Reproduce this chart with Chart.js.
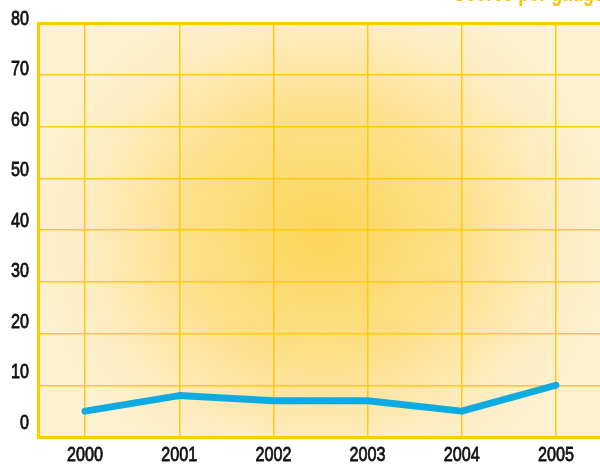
<!DOCTYPE html>
<html>
<head>
<meta charset="utf-8">
<script src="https://cdn.jsdelivr.net/npm/chart.js@4/dist/chart.umd.min.js"></script>
<style>
  html, body { margin: 0; padding: 0; background: #fff; overflow: hidden; width: 600px; height: 464px; }
  #wrap { position: absolute; left: 0; top: 0; width: 612px; height: 464px; }
  #note { position: absolute; right: -4px; top: -20px; font: bold 23px "Liberation Sans", Arial, sans-serif; color: #f7c300; white-space: nowrap; transform: scaleX(0.78); transform-origin: right top; }
</style>
</head>
<body>
<div id="wrap"><canvas id="chart" width="612" height="464"></canvas></div>
<div id="note">Scores per gauge</div>
<script>
// --- data ---
const years = ['2000', '2001', '2002', '2003', '2004', '2005'];
const values = [5, 8, 7, 7, 5, 10];
const yTicks = [0, 10, 20, 30, 40, 50, 60, 70, 80];
const yMin = 0;
const yMax = 80;

const gold = '#ffcc00';
const gridGold = '#fccb12';
const labelFont = { family: '"Liberation Sans", Arial, sans-serif', size: 21 };
const squeeze = 0.77; // condensed look for the tick labels

// soft radial glow behind the plot
const glowPlugin = {
    id: 'glow',
    beforeDraw(chart) {
        const { ctx, chartArea: a } = chart;
        const cx = 322, cy = 235;
        ctx.save();
        ctx.beginPath();
        ctx.rect(a.left, a.top, a.right - a.left, a.bottom - a.top);
        ctx.clip();
        ctx.translate(cx, cy);
        ctx.scale(1, 0.9);
        const g = ctx.createRadialGradient(0, 0, 0, 0, 0, 290);
        g.addColorStop(0, '#fdd558');
        g.addColorStop(0.45, '#fddf86');
        g.addColorStop(0.8, '#feecbf');
        g.addColorStop(1, '#fef1d1');
        ctx.fillStyle = g;
        ctx.fillRect(-400, -400, 800, 800);
        ctx.restore();
    }
};

// narrow the label text (the original uses a condensed face)
const canvas = document.getElementById('chart');
const c2d = canvas.getContext('2d');
['fillText', 'strokeText'].forEach((name) => {
    const orig = c2d[name];
    c2d[name] = function (t, x, y, mw) {
        const w = this.measureText(t).width * squeeze;
        return orig.call(this, t, x, y, mw !== undefined ? Math.min(mw, w) : w);
    };
});

const tickStyle = { color: '#111', textStrokeColor: '#111', textStrokeWidth: 0.8, font: labelFont };

new Chart(canvas, {
    type: 'line',
    data: {
        labels: years,
        datasets: [{
            data: values,
            borderColor: '#0eaae2',
            borderWidth: 7,
            borderCapStyle: 'round',
            borderJoinStyle: 'round',
            pointRadius: 0,
            tension: 0,
            fill: false
        }]
    },
    options: {
        responsive: false,
        animation: false,
        layout: { padding: { top: 23, right: 9, left: 0, bottom: 0 } },
        plugins: { legend: { display: false }, tooltip: { enabled: false } },
        scales: {
            x: {
                offset: true,
                grid: { offset: false, color: gridGold, lineWidth: 1.5, drawTicks: false },
                border: { color: gold, width: 3 },
                ticks: { ...tickStyle, padding: 6 },
                afterFit(scale) { scale.height = 27; }
            },
            y: {
                min: yMin,
                max: yMax,
                weight: 0,
                grid: {
                    color: (c) => c.tick && c.tick.value === yMax ? gold : gridGold,
                    lineWidth: (c) => c.tick && c.tick.value === yMax ? 3 : 1.5,
                    drawTicks: false
                },
                border: { color: gold, width: 3 },
                ticks: { stepSize: 10, display: false },
                afterFit(scale) { scale.width = 0; }
            },
            // label axis: the printed numbers sit a little off the grid lines
            yLabels: {
                position: 'left',
                weight: 1,
                min: -1.19,
                max: 80.79,
                grid: { display: false, drawTicks: false },
                border: { display: false },
                ticks: { ...tickStyle, padding: 9, labelOffset: -8, callback: (v) => String(v) },
                afterBuildTicks(scale) { scale.ticks = yTicks.map((v) => ({ value: v })); },
                afterFit(scale) { scale.width = 38; }
            }
        }
    },
    plugins: [glowPlugin]
});
</script>
</body>
</html>
